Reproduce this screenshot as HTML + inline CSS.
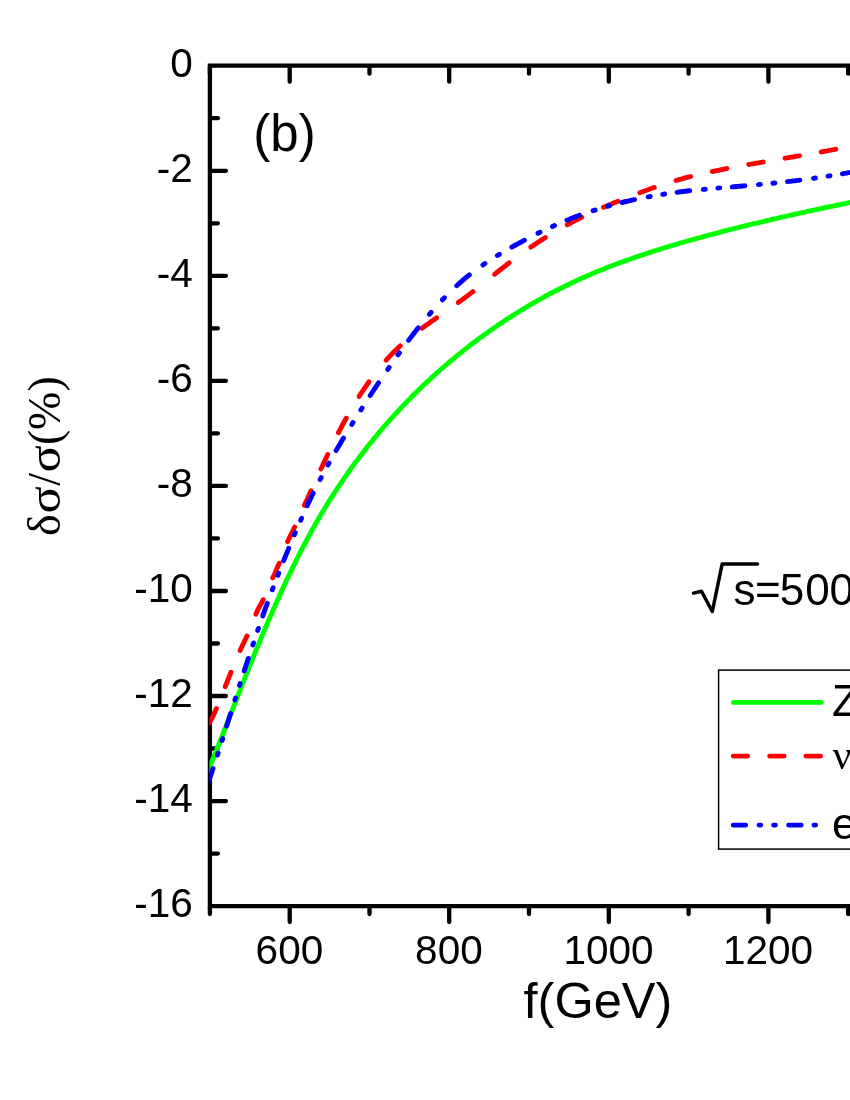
<!DOCTYPE html>
<html><head><meta charset="utf-8"><title>chart</title>
<style>html,body{margin:0;padding:0;background:#fff}svg{display:block;will-change:transform}</style></head>
<body>
<svg width="850" height="1100" viewBox="0 0 850 1100">
<rect width="850" height="1100" fill="#fff"/>
<g stroke="#000" stroke-width="4.3" fill="none" stroke-linecap="round">
<path d="M209.9 66.7v7.0M209.9 907.1v7.0M289.7 66.7v15.0M289.7 907.1v15.0M369.5 66.7v7.0M369.5 907.1v7.0M449.2 66.7v15.0M449.2 907.1v15.0M529.0 66.7v7.0M529.0 907.1v7.0M608.8 66.7v15.0M608.8 907.1v15.0M688.6 66.7v7.0M688.6 907.1v7.0M768.4 66.7v15.0M768.4 907.1v15.0M848.1 66.7v7.0M848.1 907.1v7.0M210.9 118.2h7.0M210.9 170.8h15.0M210.9 223.3h7.0M210.9 275.8h15.0M210.9 328.3h7.0M210.9 380.8h15.0M210.9 433.4h7.0M210.9 485.9h15.0M210.9 538.4h7.0M210.9 591.0h15.0M210.9 643.5h7.0M210.9 696.0h15.0M210.9 748.5h7.0M210.9 801.1h15.0M210.9 853.6h7.0"/>
</g>
<g stroke="#000" stroke-width="4.3" fill="none" stroke-linecap="square">
<path d="M860 65.7H209.9V906.1H860"/>
</g>
<clipPath id="c"><rect x="209.4" y="0" width="700" height="1100"/></clipPath>
<g fill="none" stroke-width="4.9" stroke-linecap="round" stroke-linejoin="round" clip-path="url(#c)">
<path stroke="#00ff00" d="M205.9 775.7 L207.9 771.0 L209.9 766.3 L211.9 761.4 L213.9 756.6 L215.9 751.6 L217.9 746.7 L219.9 741.6 L221.9 736.6 L223.9 731.5 L225.9 726.5 L227.9 721.4 L229.9 716.3 L231.9 711.2 L233.9 706.1 L235.9 701.0 L237.9 695.9 L239.9 690.8 L241.9 685.7 L243.9 680.7 L245.9 675.6 L247.9 670.6 L249.9 665.6 L251.9 660.7 L253.9 655.7 L255.9 650.8 L257.9 645.9 L259.9 641.1 L261.9 636.3 L263.9 631.5 L265.9 626.8 L267.9 622.1 L269.9 617.4 L271.9 612.8 L273.9 608.2 L275.9 603.7 L277.9 599.2 L279.9 594.7 L281.9 590.4 L283.9 586.0 L285.9 581.7 L287.9 577.5 L289.9 573.3 L291.9 569.1 L293.9 565.0 L295.9 561.0 L297.9 557.0 L299.9 553.0 L301.9 549.2 L303.9 545.3 L305.9 541.5 L307.9 537.8 L309.9 534.1 L311.9 530.5 L313.9 526.9 L315.9 523.3 L317.9 519.9 L319.9 516.4 L321.9 513.0 L323.9 509.7 L325.9 506.4 L327.9 503.1 L329.9 499.9 L331.9 496.8 L333.9 493.7 L335.9 490.6 L337.9 487.5 L339.9 484.5 L341.9 481.6 L343.9 478.6 L345.9 475.8 L347.9 472.9 L349.9 470.1 L351.9 467.3 L353.9 464.5 L355.9 461.8 L357.9 459.1 L359.9 456.5 L361.9 453.9 L363.9 451.3 L365.9 448.7 L367.9 446.2 L369.9 443.6 L371.9 441.2 L373.9 438.7 L375.9 436.3 L377.9 433.9 L379.9 431.5 L381.9 429.2 L383.9 426.8 L385.9 424.5 L387.9 422.2 L389.9 420.0 L391.9 417.8 L393.9 415.6 L395.9 413.4 L397.9 411.2 L399.9 409.1 L401.9 406.9 L403.9 404.8 L405.9 402.8 L407.9 400.7 L409.9 398.7 L411.9 396.6 L413.9 394.6 L415.9 392.7 L417.9 390.7 L419.9 388.7 L421.9 386.8 L423.9 384.9 L425.9 383.0 L427.9 381.1 L429.9 379.3 L431.9 377.4 L433.9 375.6 L435.9 373.8 L437.9 372.0 L439.9 370.3 L441.9 368.5 L443.9 366.8 L445.9 365.0 L447.9 363.3 L449.9 361.6 L451.9 360.0 L453.9 358.3 L455.9 356.7 L457.9 355.0 L459.9 353.4 L461.9 351.8 L463.9 350.2 L465.9 348.6 L467.9 347.1 L469.9 345.5 L471.9 344.0 L473.9 342.5 L475.9 341.0 L477.9 339.5 L479.9 338.0 L481.9 336.6 L483.9 335.1 L485.9 333.7 L487.9 332.2 L489.9 330.8 L491.9 329.4 L493.9 328.0 L495.9 326.7 L497.9 325.3 L499.9 323.9 L501.9 322.6 L503.9 321.3 L505.9 319.9 L507.9 318.6 L509.9 317.3 L511.9 316.1 L513.9 314.8 L515.9 313.5 L517.9 312.3 L519.9 311.0 L521.9 309.8 L523.9 308.6 L525.9 307.4 L527.9 306.2 L529.9 305.0 L531.9 303.9 L533.9 302.7 L535.9 301.6 L537.9 300.4 L539.9 299.3 L541.9 298.2 L543.9 297.1 L545.9 296.0 L547.9 294.9 L549.9 293.8 L551.9 292.8 L553.9 291.7 L555.9 290.7 L557.9 289.7 L559.9 288.7 L561.9 287.7 L563.9 286.7 L565.9 285.7 L567.9 284.7 L569.9 283.7 L571.9 282.8 L573.9 281.9 L575.9 280.9 L577.9 280.0 L579.9 279.1 L581.9 278.2 L583.9 277.3 L585.9 276.4 L587.9 275.5 L589.9 274.7 L591.9 273.8 L593.9 273.0 L595.9 272.1 L597.9 271.3 L599.9 270.5 L601.9 269.7 L603.9 268.9 L605.9 268.1 L607.9 267.3 L609.9 266.5 L611.9 265.7 L613.9 265.0 L615.9 264.2 L617.9 263.5 L619.9 262.7 L621.9 262.0 L623.9 261.3 L625.9 260.6 L627.9 259.9 L629.9 259.2 L631.9 258.5 L633.9 257.8 L635.9 257.1 L637.9 256.4 L639.9 255.7 L641.9 255.1 L643.9 254.4 L645.9 253.7 L647.9 253.1 L649.9 252.4 L651.9 251.8 L653.9 251.1 L655.9 250.5 L657.9 249.9 L659.9 249.3 L661.9 248.6 L663.9 248.0 L665.9 247.4 L667.9 246.8 L669.9 246.2 L671.9 245.6 L673.9 245.0 L675.9 244.4 L677.9 243.8 L679.9 243.2 L681.9 242.7 L683.9 242.1 L685.9 241.5 L687.9 240.9 L689.9 240.4 L691.9 239.8 L693.9 239.3 L695.9 238.7 L697.9 238.1 L699.9 237.6 L701.9 237.1 L703.9 236.5 L705.9 236.0 L707.9 235.4 L709.9 234.9 L711.9 234.4 L713.9 233.8 L715.9 233.3 L717.9 232.8 L719.9 232.3 L721.9 231.7 L723.9 231.2 L725.9 230.7 L727.9 230.2 L729.9 229.7 L731.9 229.2 L733.9 228.7 L735.9 228.2 L737.9 227.7 L739.9 227.2 L741.9 226.7 L743.9 226.2 L745.9 225.7 L747.9 225.2 L749.9 224.7 L751.9 224.2 L753.9 223.7 L755.9 223.3 L757.9 222.8 L759.9 222.3 L761.9 221.8 L763.9 221.4 L765.9 220.9 L767.9 220.4 L769.9 220.0 L771.9 219.5 L773.9 219.0 L775.9 218.6 L777.9 218.1 L779.9 217.6 L781.9 217.2 L783.9 216.7 L785.9 216.3 L787.9 215.8 L789.9 215.4 L791.9 214.9 L793.9 214.5 L795.9 214.0 L797.9 213.6 L799.9 213.2 L801.9 212.7 L803.9 212.3 L805.9 211.8 L807.9 211.4 L809.9 211.0 L811.9 210.5 L813.9 210.1 L815.9 209.7 L817.9 209.2 L819.9 208.8 L821.9 208.4 L823.9 208.0 L825.9 207.5 L827.9 207.1 L829.9 206.7 L831.9 206.3 L833.9 205.9 L835.9 205.5 L837.9 205.0 L839.9 204.6 L841.9 204.2 L843.9 203.8 L845.9 203.4 L847.9 203.0 L849.9 202.6 L851.9 202.2 L852.9 202.0"/>
<path stroke="#ff0000" d="M209.3 723.1 L210.4 721.1 L211.5 719.1 L212.5 717.1 L213.5 715.1 L214.4 713.1 L215.3 711.1 L216.2 709.1 L216.4 708.6M225.2 686.8 L225.9 684.8 L226.7 682.8 L227.5 680.8 L228.3 678.8 L229.1 676.8 L229.9 674.8 L230.7 672.8 L230.9 672.3M240.1 650.5 L241.0 648.5 L242.0 646.5 L242.9 644.5 L243.9 642.5 L244.8 640.5 L245.8 638.5 L246.7 636.5 L247.0 636.0M255.9 614.2 L256.7 612.2 L257.6 610.2 L258.6 608.2 L259.7 606.2 L260.9 604.2 L262.0 602.2 L262.9 600.2 L263.2 599.7M272.7 577.9 L273.8 575.9 L274.7 573.9 L275.5 571.9 L276.3 569.9 L277.1 567.9 L278.0 565.9 L278.9 563.9 L279.2 563.4M287.6 541.6 L288.5 539.6 L289.5 537.6 L290.5 535.6 L291.5 533.6 L292.5 531.6 L293.5 529.6 L294.4 527.6 L294.6 527.1M304.4 505.3 L305.3 503.3 L306.2 501.3 L307.2 499.3 L308.1 497.3 L309.0 495.3 L309.9 493.3 L310.8 491.3 L311.0 490.8M320.9 469.0 L321.9 467.0 L322.8 465.0 L323.7 463.0 L324.6 461.0 L325.6 459.0 L326.5 457.0 L327.5 455.0 L327.7 454.5M338.4 432.7 L339.5 430.7 L340.5 428.7 L341.6 426.7 L342.6 424.7 L343.7 422.7 L344.8 420.7 L345.9 418.7 L346.2 418.2M359.1 396.4 L360.4 394.4 L361.7 392.4 L363.1 390.4 L364.4 388.4 L365.8 386.4 L367.2 384.4 L368.6 382.4 L368.9 381.9M386.2 360.1 L388.0 358.1 L389.9 356.1 L391.8 354.1 L393.7 352.1 L395.7 350.2 L397.7 348.2 L399.7 346.3 L400.2 345.9M422.0 328.2 L424.0 326.8 L426.0 325.3 L428.0 323.9 L430.0 322.5 L432.0 321.1 L434.0 319.7 L436.0 318.3 L436.5 317.9M458.3 302.5 L460.3 301.1 L462.3 299.6 L464.3 298.1 L466.3 296.6 L468.3 295.1 L470.3 293.6 L472.3 292.1 L472.8 291.7M494.6 274.3 L496.6 272.7 L498.6 271.1 L500.6 269.5 L502.6 268.0 L504.6 266.4 L506.6 264.8 L508.6 263.3 L509.1 262.9M530.9 247.1 L532.9 245.7 L534.9 244.4 L536.9 243.0 L538.9 241.7 L540.9 240.4 L542.9 239.1 L544.9 237.9 L545.4 237.5M567.2 224.8 L569.2 223.7 L571.2 222.7 L573.2 221.6 L575.2 220.6 L577.2 219.6 L579.2 218.6 L581.2 217.6 L581.7 217.3M603.5 207.3 L605.5 206.4 L607.5 205.6 L609.5 204.7 L611.5 203.9 L613.5 203.0 L615.5 202.2 L617.5 201.4 L618.0 201.2M639.8 192.7 L641.8 192.0 L643.8 191.2 L645.8 190.5 L647.8 189.8 L649.8 189.0 L651.8 188.3 L653.8 187.6 L654.3 187.5M676.1 180.5 L678.1 179.9 L680.1 179.3 L682.1 178.8 L684.1 178.2 L686.1 177.7 L688.1 177.2 L690.1 176.7 L690.6 176.5M712.4 171.5 L714.4 171.1 L716.4 170.7 L718.4 170.3 L720.4 169.9 L722.4 169.5 L724.4 169.1 L726.4 168.7 L726.9 168.6M748.7 164.5 L750.7 164.2 L752.7 163.8 L754.7 163.5 L756.7 163.1 L758.7 162.8 L760.7 162.4 L762.7 162.1 L763.2 162.0M785.0 158.2 L787.0 157.9 L789.0 157.5 L791.0 157.2 L793.0 156.8 L795.0 156.5 L797.0 156.1 L799.0 155.8 L799.5 155.7M821.3 151.9 L823.3 151.5 L825.3 151.1 L827.3 150.8 L829.3 150.4 L831.3 150.1 L833.3 149.7 L835.3 149.3 L835.8 149.2"/>
<path stroke="#0000ff" d="M208.8 781.2 L209.4 779.2 L210.1 777.2 L210.8 775.2 L211.5 773.2 L212.1 771.2 L212.8 769.2 L213.0 768.6M217.4 755.1 L218.1 753.1M222.1 740.6 L222.7 738.6M226.6 726.1 L227.3 724.1 L227.9 722.1 L228.5 720.1 L229.1 718.1 L229.8 716.1 L230.4 714.1 L230.6 713.5M234.9 700.0 L235.5 698.0M239.5 685.5 L240.1 683.5M244.2 671.0 L244.8 669.0 L245.5 667.0 L246.1 665.0 L246.8 663.0 L247.4 661.0 L248.1 659.0 L248.3 658.4M252.8 644.9 L253.5 642.9M257.7 630.4 L258.4 628.4M262.8 615.9 L263.5 613.9 L264.2 611.9 L264.9 609.9 L265.6 607.9 L266.4 605.9 L267.1 603.9 L267.3 603.3M272.3 589.8 L273.1 587.8M277.9 575.3 L278.7 573.3M283.6 560.8 L284.4 558.8 L285.2 556.8 L286.0 554.8 L286.9 552.8 L287.7 550.8 L288.5 548.8 L288.7 548.2M294.4 534.7 L295.3 532.7M300.7 520.2 L301.6 518.2M307.2 505.7 L308.1 503.7 L309.1 501.7 L310.0 499.7 L311.0 497.7 L311.9 495.7 L312.9 493.7 L313.2 493.1M320.1 479.6 L321.2 477.6M327.9 465.1 L329.0 463.1M336.1 450.6 L337.3 448.6 L338.5 446.6 L339.7 444.6 L340.8 442.6 L342.0 440.6 L343.2 438.6 L343.6 438.0M351.8 424.5 L353.0 422.5M360.9 410.0 L362.1 408.0M370.2 395.5 L371.5 393.5 L372.8 391.5 L374.1 389.5 L375.5 387.5 L376.8 385.5 L378.1 383.5 L378.5 382.9M387.8 369.4 L389.2 367.4M398.0 354.9 L399.5 352.9M408.6 340.4 L410.1 338.4 L411.6 336.4 L413.1 334.4 L414.7 332.4 L416.2 330.4 L417.8 328.4 L418.3 327.8M429.4 314.3 L431.1 312.3M442.4 299.8 L444.4 297.8M456.7 285.7 L458.7 283.9 L460.7 282.1 L462.7 280.4 L464.7 278.7 L466.7 277.0 L468.7 275.4 L469.3 274.9M482.9 264.9 L484.9 263.5M497.4 255.5 L499.4 254.3M511.8 247.1 L513.8 246.0 L515.8 244.9 L517.8 243.8 L519.8 242.7 L521.8 241.7 L523.8 240.6 L524.4 240.3M538.0 233.3 L540.0 232.3M552.5 226.4 L554.5 225.5M566.9 220.2 L568.9 219.4 L570.9 218.6 L572.9 217.8 L574.9 217.1 L576.9 216.3 L578.9 215.6 L579.5 215.3M593.1 210.7 L595.1 210.1M607.6 206.3 L609.6 205.7M622.0 202.5 L624.0 202.0 L626.0 201.5 L628.0 201.1 L630.0 200.6 L632.0 200.1 L634.0 199.7 L634.6 199.6M648.2 196.8 L650.2 196.5M662.7 194.3 L664.7 194.0M677.1 192.3 L679.1 192.0 L681.1 191.7 L683.1 191.5 L685.1 191.3 L687.1 191.0 L689.1 190.8 L689.7 190.7M703.3 189.4 L705.3 189.2M717.8 188.1 L719.8 187.9M732.2 186.9 L734.2 186.7 L736.2 186.5 L738.2 186.4 L740.2 186.2 L742.2 186.0 L744.2 185.9 L744.8 185.8M758.4 184.6 L760.4 184.4M772.9 183.2 L774.9 183.0M787.3 181.6 L789.3 181.4 L791.3 181.2 L793.3 180.9 L795.3 180.7 L797.3 180.4 L799.3 180.2 L799.9 180.1M813.5 178.3 L815.5 178.0M828.0 176.1 L830.0 175.8M842.4 173.8 L844.4 173.4 L846.4 173.1 L848.4 172.7 L850.4 172.4 L852.4 172.0 L852.9 171.9"/>
</g>
<g font-family="Liberation Sans, sans-serif" font-size="40.5" fill="#000">
<text x="192.8" y="76.6" text-anchor="end">0</text>
<text x="192.8" y="181.7" text-anchor="end">-2</text>
<text x="192.8" y="286.7" text-anchor="end">-4</text>
<text x="192.8" y="391.7" text-anchor="end">-6</text>
<text x="192.8" y="496.8" text-anchor="end">-8</text>
<text x="192.8" y="601.9" text-anchor="end">-10</text>
<text x="192.8" y="706.9" text-anchor="end">-12</text>
<text x="192.8" y="812.0" text-anchor="end">-14</text>
<text x="192.8" y="917.0" text-anchor="end">-16</text>
<text x="289.4" y="963.7" text-anchor="middle">600</text>
<text x="448.9" y="963.7" text-anchor="middle">800</text>
<text x="608.5" y="963.7" text-anchor="middle">1000</text>
<text x="768.1" y="963.7" text-anchor="middle">1200</text>
</g>
<text x="253.3" y="150.8" font-family="Liberation Sans, sans-serif" font-size="51">(b)</text>
<text x="523.6" y="1018" font-family="Liberation Sans, sans-serif" font-size="50.5">f(GeV)</text>
<g transform="translate(60 536) rotate(-90)" font-family="Liberation Serif, serif" font-size="46">
<text x="0.0" y="0">δ</text>
<text transform="translate(22.6 0) scale(1.10 1)">σ</text>
<text x="50.3" y="0">/</text>
<text transform="translate(63.6 0) scale(1.10 1)">σ</text>
<text x="91.1" y="0">(</text>
<text x="106.0" y="0">%</text>
<text x="144.5" y="0">)</text>
</g>
<path d="M693.5 593.1L701.5 591.2L712.3 611.5L722.2 563.9H757.5" fill="none" stroke="#000" stroke-width="3.5" stroke-linejoin="round" stroke-linecap="round"/>
<text x="733.5 755 779.7 805.2 829.5" y="605" font-family="Liberation Sans, sans-serif" font-size="44">s=500</text>
<rect x="718.6" y="670.1" width="200" height="179" fill="#fff" stroke="#000" stroke-width="1.5"/>
<g fill="none" stroke-width="4.6" stroke-linecap="round">
<path stroke="#00ff00" d="M733.3 702.4H821.5"/>
<path stroke="#ff0000" d="M733.1 756.1h14.6M769.5 756.1h14.7M805.8 756.1h14.9"/>
<path stroke="#0000ff" d="M733.1 825.1h12.7M758.9 825.1h2M773.5 825.1h2M788.5 825.1h12.8M813.8 825.1h2"/>
</g>
<g font-family="Liberation Sans, sans-serif" font-size="44" fill="#000">
<text x="832" y="715.6">Z</text>
<text x="832.1" y="838.9">e</text>
</g>
<text x="832.8" y="769.4" font-family="Liberation Serif, serif" font-size="41">ν</text>
</svg>
</body></html>
